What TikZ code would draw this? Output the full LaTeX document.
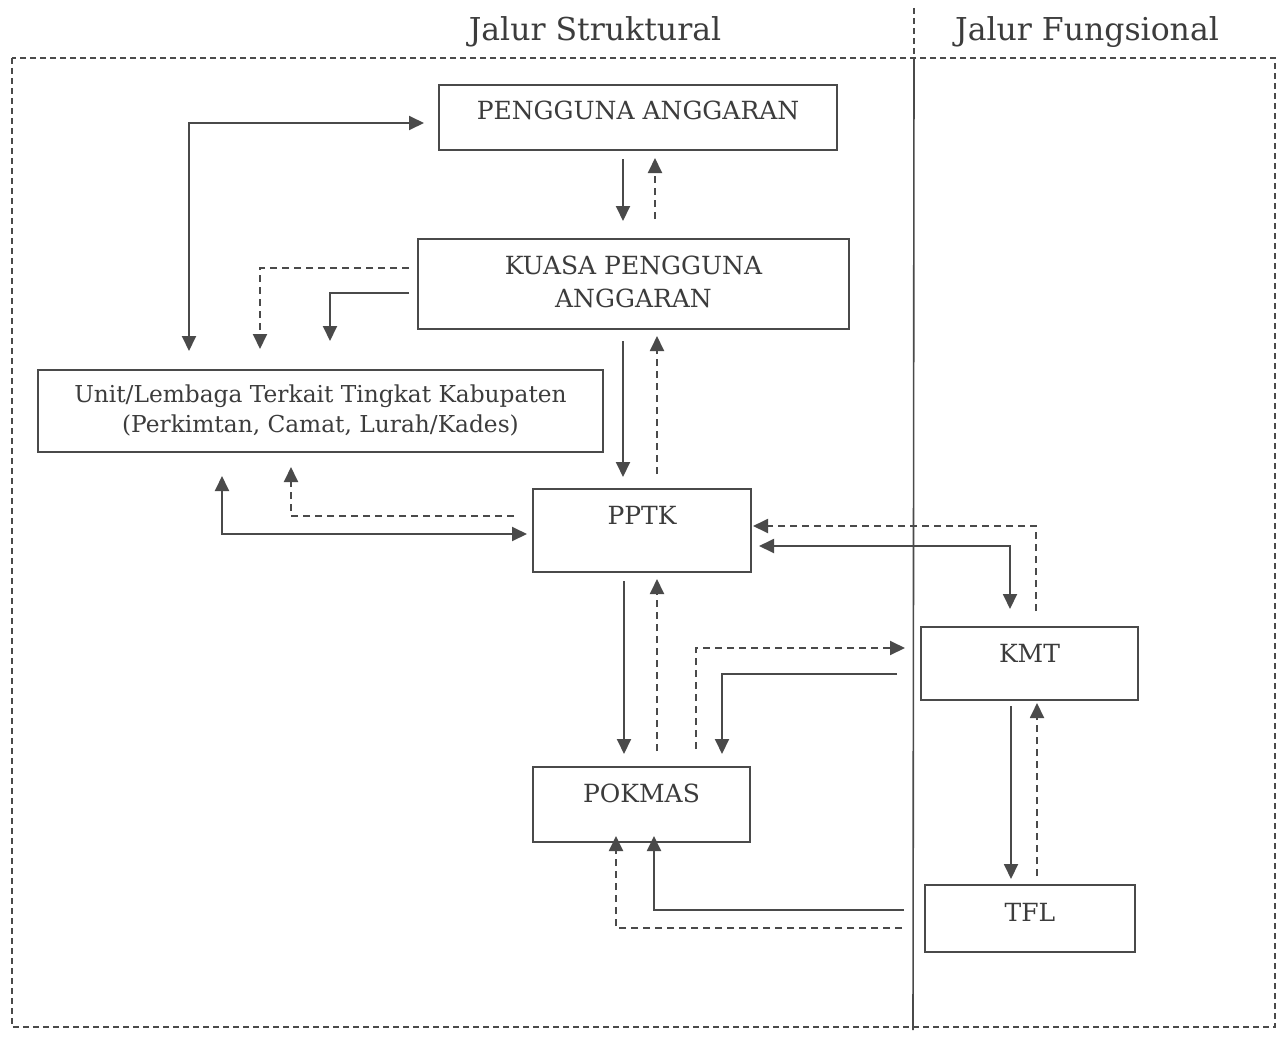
\documentclass[tikz,border=0pt]{standalone}
\usepackage{fontspec}
\setmainfont{DejaVu Serif}
\usetikzlibrary{arrows.meta,calc}
\definecolor{ink}{HTML}{4A4A4A}
\definecolor{tink}{HTML}{3C3C3C}
\begin{document}
\begin{tikzpicture}[x=1pt,y=-1pt,
  box/.style={draw=ink, line width=2pt, inner sep=0pt},
  txt/.style={text=tink, font=\fontsize{25}{33}\selectfont, align=center},
  small/.style={text=tink, font=\fontsize{23.3}{30}\selectfont, align=center},
  title/.style={text=tink, font=\fontsize{31.5}{36}\selectfont},
  tipa/.tip={Triangle[length=15pt,width=14pt]},
  conn/.style={draw=ink, line width=1.9pt, -tipa},
  dconn/.style={conn, dash pattern=on 7pt off 5pt},
  both/.style={draw=ink, line width=1.9pt, tipa-tipa},
  frame/.style={draw=ink, line width=1.5pt, dash pattern=on 6pt off 4pt},
]
\useasboundingbox (0,0) rectangle (1279,1041);
\fill[white] (0,0) rectangle (1279,1041);

% frame and divider
\draw[frame] (12,58) rectangle (1275,1027);
\draw[frame] (914,8) -- (914,58);
\draw[draw=ink, line width=1.6pt] (914,58) -- (913,1030);
\node[title] (ts) at (595,32) {Jalur Struktural};
\node[title] (tf) at (1087,32) {Jalur Fungsional};

% boxes
\node[box, minimum width=398, minimum height=65,
  label={[txt,yshift=7.5pt]center:PENGGUNA ANGGARAN}] (pa) at (638,117.5) {};
\node[box, minimum width=431, minimum height=90,
  label={[txt,yshift=2.5pt]center:KUASA PENGGUNA\\ANGGARAN}] (kpa) at (633.5,284) {};
\node[box, minimum width=565, minimum height=82,
  label={[small,yshift=1pt]center:Unit/Lembaga Terkait Tingkat Kabupaten\\(Perkimtan, Camat, Lurah/Kades)}] (unit) at (320.5,411) {};
\node[box, minimum width=218, minimum height=83,
  label={[txt,yshift=15.5pt]center:PPTK}] (pptk) at (642,530.5) {};
\node[box, minimum width=217, minimum height=75,
  label={[txt,yshift=11.5pt]center:POKMAS}] (pokmas) at (641.5,804.5) {};
\node[box, minimum width=217, minimum height=73,
  label={[txt,yshift=10.5pt]center:KMT}] (kmt) at (1029.5,663.5) {};
\node[box, minimum width=210, minimum height=67,
  label={[txt,yshift=6.5pt]center:TFL}] (tfl) at (1030,918.5) {};

% connectors
\draw[both] ($(unit.north west)+(152,-18)$) |- ($(pa.west)+(-14,5.5)$);

\draw[conn] ($(pa.south)+(-15,8)$) -- ($(kpa.north)+(-10.5,-17)$);
\draw[dconn] ($(kpa.north)+(21.5,-19)$) -- ($(pa.south)+(17,7)$);

\draw[dconn] ($(kpa.west)+(-8,-16)$) -| ($(unit.north)+(-60.5,-20)$);
\draw[conn] ($(kpa.west)+(-8,9)$) -| ($(unit.north)+(9.5,-28)$);

\draw[conn] ($(kpa.south)+(-10.5,11)$) -- ($(pptk.north)+(-19,-11)$);
\draw[dconn] ($(pptk.north)+(15,-14)$) -- ($(kpa.south)+(23.5,6)$);

\draw[both] ($(unit.south)+(-98.5,23)$) |- ($(pptk.west)+(-5,3.5)$);
\draw[dconn] ($(pptk.west)+(-18,-14.5)$) -| ($(unit.south)+(-29.5,14)$);

\draw[dconn] ($(kmt.north)+(6.5,-15)$) |- ($(pptk.east)+(1,-4.5)$);
\draw[both] ($(pptk.east)+(7,15.5)$) -| ($(kmt.north)+(-19.5,-17)$);

\draw[conn] ($(pptk.south)+(-18,8)$) -- ($(pokmas.north)+(-17.5,-12)$);
\draw[dconn] ($(pokmas.north)+(15.5,-15)$) -- ($(pptk.south)+(15,6)$);

\draw[dconn] ($(pokmas.north)+(54.5,-17)$) |- ($(kmt.west)+(-15,-15.5)$);
\draw[conn] ($(kmt.west)+(-23,10.5)$) -| ($(pokmas.north)+(80.5,-12)$);

\draw[conn] ($(kmt.south)+(-18.5,5)$) -- ($(tfl.north)+(-19,-5)$);
\draw[dconn] ($(tfl.north)+(7,-8)$) -- ($(kmt.south)+(7.5,2)$);

\draw[conn] ($(tfl.west)+(-20,-8.5)$) -| ($(pokmas.south)+(12.5,-7)$);
\draw[dconn] ($(tfl.west)+(-22,9.5)$) -| ($(pokmas.south)+(-25.5,-7)$);
\end{tikzpicture}
\end{document}
